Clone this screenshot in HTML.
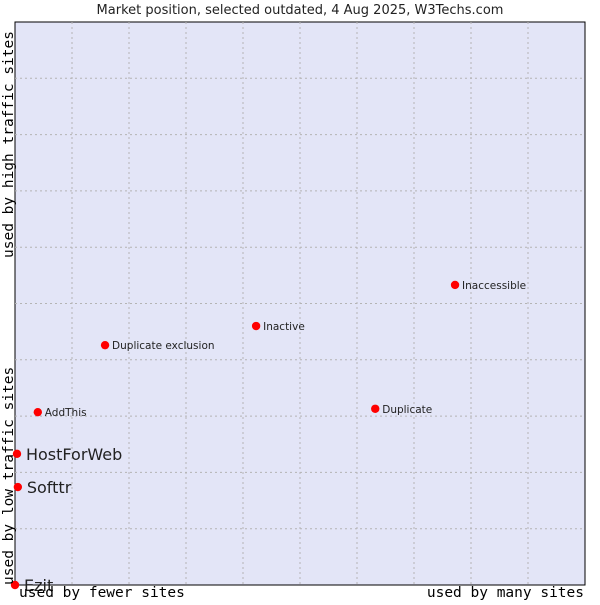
<!DOCTYPE html>
<html><head><meta charset="utf-8"><style>
body{margin:0;background:#fff;width:600px;height:600px;overflow:hidden}
</style></head><body>
<svg id="chart" width="600" height="600" xmlns="http://www.w3.org/2000/svg">
<text x="300" y="14" text-anchor="middle" font-family="DejaVu Sans, sans-serif" font-size="13" fill="#222">Market position, selected outdated, 4 Aug 2025, W3Techs.com</text>
<rect x="15" y="22" width="570" height="563" fill="#e3e5f7" stroke="#000" stroke-width="1"/>
<g id="grid"></g>
<g id="points"></g>
<text transform="translate(13,585) rotate(-90)" font-family="DejaVu Sans Mono, monospace" font-size="14.5" fill="#000">used by low traffic sites</text>
<text transform="translate(13,258) rotate(-90)" font-family="DejaVu Sans Mono, monospace" font-size="14.5" fill="#000">used by high traffic sites</text>
<text x="19" y="597" font-family="DejaVu Sans Mono, monospace" font-size="14.5" fill="#000">used by fewer sites</text>
<text x="584" y="597" text-anchor="end" font-family="DejaVu Sans Mono, monospace" font-size="14.5" fill="#000">used by many sites</text>
</svg>
<script>
const names=["Ezit","HostForWeb","Softtr","AddThis","Duplicate exclusion","Inactive","Inaccessible","Duplicate"];
const xValues=[0,0.35,0.5,4,15.8,42.3,77.2,63.2];
const yValues=[0,23.3,17.4,30.7,42.6,46,53.3,31.3];
const big=[true,true,true,false,false,false,false,false];
const NS="http://www.w3.org/2000/svg";
const X0=15,W=570,Y0=585,H=563;
const sx=v=>X0+v/100*W, sy=v=>Y0-v/100*H;
const grid=document.getElementById('grid');
for(let i=1;i<10;i++){
  const gx=document.createElementNS(NS,'line');
  
  
  gx.setAttribute('x1',sx(i*10));gx.setAttribute('x2',sx(i*10));gx.setAttribute('y1',22);gx.setAttribute('y2',585);
  gx.setAttribute('stroke','#b4b4b4');gx.setAttribute('stroke-dasharray','2,3');
  grid.appendChild(gx);
  const gy=document.createElementNS(NS,'line');
  
  
  gy.setAttribute('y1',sy(i*10));gy.setAttribute('y2',sy(i*10));gy.setAttribute('x1',15);gy.setAttribute('x2',585);
  gy.setAttribute('stroke','#b4b4b4');gy.setAttribute('stroke-dasharray','2,3');
  grid.appendChild(gy);
}
const pts=document.getElementById('points');
names.forEach((n,i)=>{
  const x=sx(xValues[i]),y=sy(yValues[i]);
  const p=document.createElementNS(NS,'circle');
  
  
  p.setAttribute('cx',x);p.setAttribute('cy',y);p.setAttribute('r',4.2);
  p.setAttribute('fill','#f00');
  pts.appendChild(p);
  const t=document.createElementNS(NS,'text');
  
  
  t.setAttribute('x',x+(big[i]?9:7));t.setAttribute('y',y+(big[i]?6:4));
  t.setAttribute('font-family','DejaVu Sans, sans-serif');
  t.setAttribute('font-size',big[i]?16:10.5);
  t.setAttribute('fill','#222');
  t.textContent=n;
  pts.appendChild(t);
});
</script>
</body></html>
